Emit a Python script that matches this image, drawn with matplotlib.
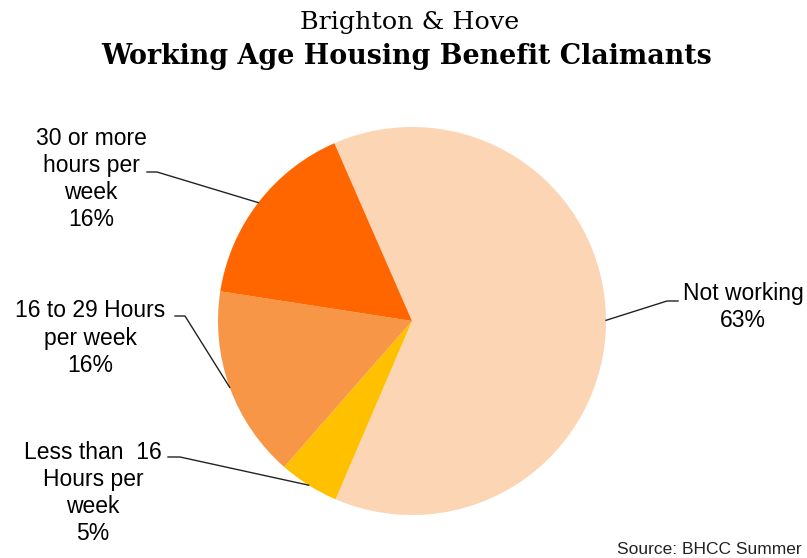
import matplotlib
matplotlib.use("Agg")
import matplotlib.pyplot as plt
import numpy as np
from matplotlib.lines import Line2D

categories = ["Not working", "Less than  16\nHours per\nweek", "16 to 29 Hours\nper week", "30 or more\nhours per\nweek"]
values = [63, 5, 16, 16]
colors = ["#FCD5B5", "#FFC000", "#F79646", "#FF6600"]
title_top = "Brighton & Hove"
title_main = "Working Age Housing Benefit Claimants"
source = "Source: BHCC Summer"

W, H = 807, 558
fig = plt.figure(figsize=(W / 100, H / 100), dpi=100)

def fx(x):
    return x / W

def fy(y):
    return 1 - y / H

# pie axes: centre (412, 321), radius 194 px
cx, cy, r = 412, 321, 194
ax = fig.add_axes([fx(cx - r), fy(cy + r), 2 * r / W, 2 * r / H])
wedges, _ = ax.pie(values, colors=colors, startangle=113.6, counterclock=False,
                   radius=1, wedgeprops=dict(linewidth=0))
ax.set_xlim(-1, 1)
ax.set_ylim(-1, 1)
ax.set_aspect("equal", adjustable="box")
ax.axis("off")

sans = ["Liberation Sans", "DejaVu Sans"]
serif = ["DejaVu Serif", "Liberation Serif"]

fig.text(fx(410), fy(22), title_top, ha="center", va="center", fontsize=18.3, family=serif)
fig.text(fx(407), fy(57), title_main, ha="center", va="center", fontsize=19.4,
         fontweight="bold", family=serif)

# label layout: (text centre x, text centre y, line start, bend) in image pixels
layout = [
    ((743, 307), (678, 301), (667, 301)),
    ((93, 493), (168, 457), (180, 457)),
    ((90, 338), (175, 316), (185, 316)),
    ((91, 179), (147, 172), (157, 172)),
]

fig.canvas.draw()
for w, cat, val, (tc, a, b) in zip(wedges, categories, values, layout):
    fig.text(fx(tc[0]), fy(tc[1]), f"{cat}\n{val}%", ha="center", va="center",
             fontsize=16.5, family=sans, linespacing=1.24, color="#000000")
    mid = np.deg2rad((w.theta1 + w.theta2) / 2)
    ex, ey = np.cos(mid), np.sin(mid)
    dx, dy = ax.transData.transform((ex, ey))
    ex_f, ey_f = fig.transFigure.inverted().transform((dx, dy))
    line = Line2D([fx(a[0]), fx(b[0]), ex_f], [fy(a[1]), fy(b[1]), ey_f],
                  transform=fig.transFigure, color="#222222", lw=1.0)
    fig.add_artist(line)

fig.text(fx(617), fy(550), source, ha="left", va="center", fontsize=12.5,
         family=sans, color="#222222")

fig.savefig("out.png", dpi=100)
